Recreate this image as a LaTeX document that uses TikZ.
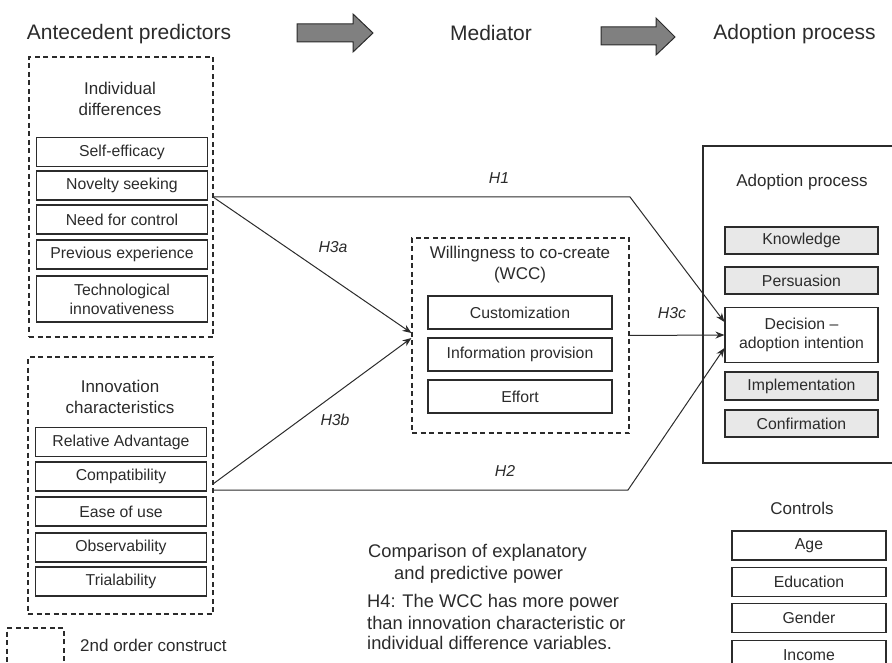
\documentclass[tikz,border=0pt]{standalone}
\usepackage{fontspec}
\setmainfont{Liberation Sans}
\usetikzlibrary{arrows.meta,calc}
\definecolor{ink}{HTML}{2B2B2B}
\definecolor{boxgray}{HTML}{E8E8E8}
\definecolor{arrowgray}{HTML}{808080}
\begin{document}
\begin{tikzpicture}[x=1pt,y=-1pt,
  every node/.style={text=ink, inner sep=0pt},
  itembox/.style={draw=ink, line width=1.1pt, align=center, font=\fontsize{15.8}{19}\selectfont},
  leftitem/.style={itembox, minimum width=171pt, minimum height=29pt},
  miditem/.style={itembox, minimum width=184pt, minimum height=33pt},
  rightitem/.style={itembox, minimum width=153pt, minimum height=27pt, fill=boxgray},
  ctrlitem/.style={itembox, minimum width=154pt, minimum height=29pt},
  dashbox/.style={draw=ink, line width=1.1pt, dash pattern=on 5pt off 3.5pt},
  titletext/.style={align=center, font=\fontsize{17}{21}\selectfont},
  headtext/.style={font=\fontsize{21}{25}\selectfont},
  hlabel/.style={font=\fontsize{15.8}{19}\selectfont\itshape},
  legtext/.style={anchor=west, font=\fontsize{17}{21}\selectfont},
  bodytext/.style={anchor=west, font=\fontsize{18.3}{22}\selectfont},
  conn/.style={draw=ink, line width=1pt, -{Stealth[length=9pt,width=7pt]}},
  bigarrow/.style={fill=arrowgray, draw=ink, line width=1pt, line join=miter}
]
\useasboundingbox (0,0) rectangle (892,663);

% header
\node[headtext] (hA) at (129,34) {Antecedent predictors};
\node[headtext] (hM) at (491,33) {Mediator};
\node[headtext] (hP) at (794.5,34) {Adoption process};
\draw[bigarrow] (297,24) -- (353,24) -- (353,14) -- (373,33) -- (353,52) -- (353,42) -- (297,42) -- cycle;
\draw[bigarrow] (601,27) -- (656,27) -- (656,18) -- (675,37) -- (656,55) -- (656,45) -- (601,45) -- cycle;

% individual differences
\node[dashbox, minimum width=184pt, minimum height=280pt] (idbox) at (121,197) {};
\node[titletext] (idt) at (120,98.5) {Individual\\differences};
\node[leftitem] (se) at (122,152) {Self-efficacy};
\node[leftitem] (ns) at (122,185.5) {Novelty seeking};
\node[leftitem] (nc) at (122,219.5) {Need for control};
\node[leftitem] (pe) at (122,254.5) {Previous experience};
\node[leftitem, minimum height=46pt] (ti) at (122,299) {Technological\\innovativeness};

% innovation characteristics
\node[dashbox, minimum width=185pt, minimum height=257pt] (icbox) at (120.5,485.5) {};
\node[titletext] (ict) at (120,396.5) {Innovation\\characteristics};
\node[leftitem] (ra) at (121,442) {Relative Advantage};
\node[leftitem] (co) at (121,476.5) {Compatibility};
\node[leftitem] (eu) at (121,511.5) {Ease of use};
\node[leftitem] (ob) at (121,547.5) {Observability};
\node[leftitem] (tr) at (121,581.5) {Trialability};

% legend
\node[dashbox, minimum width=57pt, minimum height=44pt] (leg) at (35.5,650) {};
\node[legtext] (legt) at (80,645) {2nd order construct};

% mediator
\node[dashbox, minimum width=217pt, minimum height=195pt] (wcc) at (520.5,335.5) {};
\node[titletext] (wcct) at (520,265) {Willingness to co-create\\(WCC)};
\node[miditem] (cu) at (520,312.5) {Customization};
\node[miditem] (ip) at (520,354.5) {Information provision};
\node[miditem] (ef) at (520,396.5) {Effort};

% adoption process
\node[draw=ink, line width=1.1pt, minimum width=192pt, minimum height=317pt] (adopt) at (799,304.5) {};
\node[titletext] (adt) at (802,182) {Adoption process};
\node[rightitem] (kn) at (801.5,240.5) {Knowledge};
\node[rightitem] (pu) at (801.5,280.5) {Persuasion};
\node[itembox, minimum width=153pt, minimum height=55pt, fill=white] (dec) at (801.5,335) {Decision --\\adoption intention};
\node[rightitem, minimum height=28pt] (im) at (801.5,386) {Implementation};
\node[rightitem] (cf) at (801.5,423.5) {Confirmation};

% controls
\node[titletext] (ctt) at (802,508) {Controls};
\node[ctrlitem] (age) at (809,545.5) {Age};
\node[ctrlitem] (edu) at (809,582) {Education};
\node[ctrlitem] (gen) at (809,618) {Gender};
\node[ctrlitem] (inc) at (809,655) {Income};

% bottom text
\node[bodytext] (c1) at (368,553) {Comparison of explanatory};
\node[bodytext] (c2) at (394,575) {and predictive power};
\node[bodytext] (c3) at (367,603) {H4: The WCC has more power};
\node[bodytext] (c4) at (367,623) {than innovation characteristic or};
\node[bodytext] (c5) at (367,643) {individual difference variables.};

% connectors
\coordinate (s1) at (213,197);
\coordinate (s2) at (213,490);
\coordinate (s3) at (213,484);
\coordinate (k1) at (630,197);
\coordinate (k2) at (628,490);
\draw[conn] (s1) -- (k1) -- ($(dec.west)+(0,-13)$);
\draw[conn] (s1) -- ($(wcc.west)+(0,-2.5)$);
\draw[conn] (s3) -- ($(wcc.west)+(0,2.5)$);
\draw[conn] (wcc.east) -- (dec.west);
\draw[conn] (s2) -- (k2) -- ($(dec.west)+(0,13)$);

% labels
\node[hlabel] (l1) at (499,178) {H1};
\node[hlabel] (l3a) at (333,247) {H3a};
\node[hlabel] (l3b) at (335,420) {H3b};
\node[hlabel] (l2) at (505,471) {H2};
\node[hlabel] (l3c) at (672,313) {H3c};
\end{tikzpicture}
\end{document}
